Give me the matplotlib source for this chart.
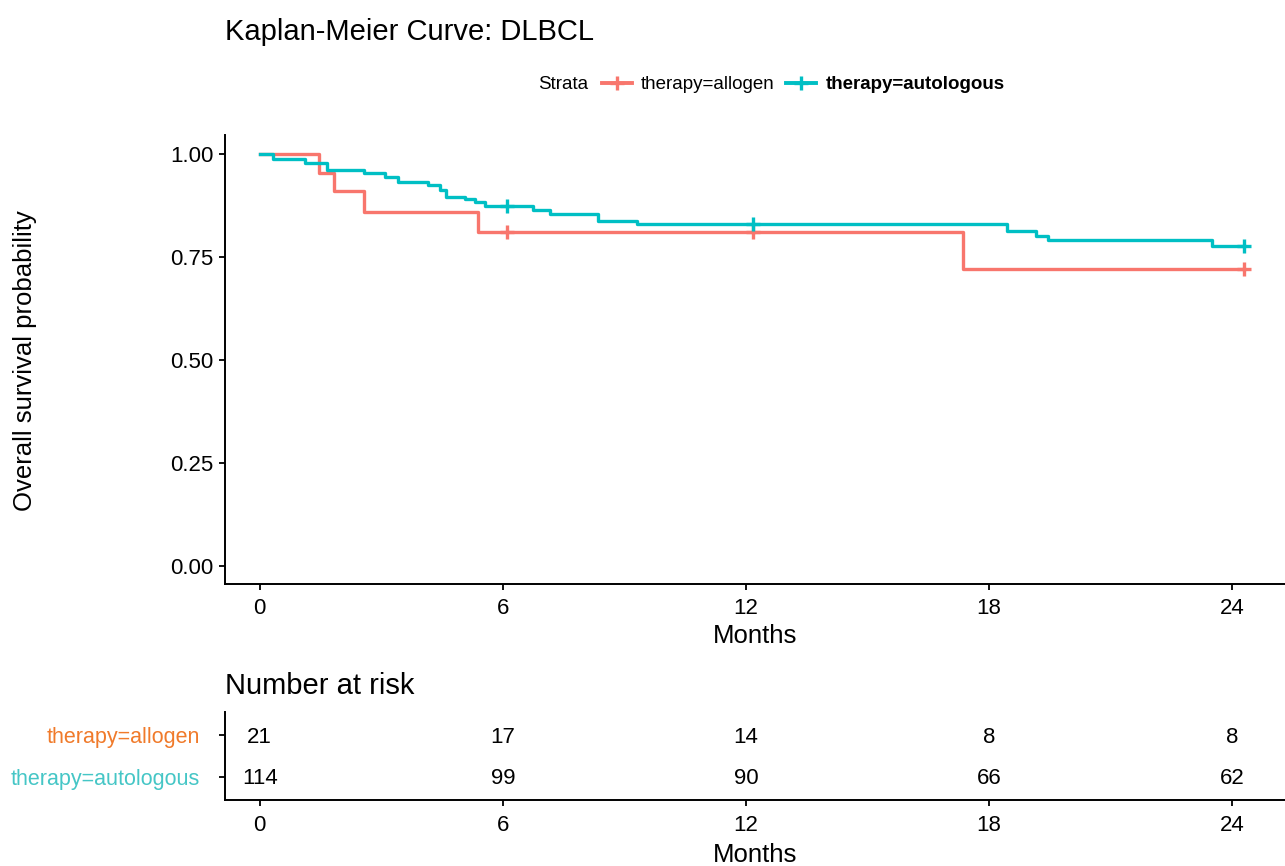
import matplotlib
matplotlib.use("Agg")
import matplotlib.pyplot as plt
from matplotlib.lines import Line2D

plt.rcParams['font.family'] = ['Liberation Sans', 'DejaVu Sans']

RED = '#F8766D'
TEAL = '#00BFC4'

# survival curves (step functions)
allogen_time = [0, 1.46, 1.83, 2.57, 5.38, 17.36, 24.3]
allogen_surv = [1.0, 0.955, 0.91, 0.86, 0.81, 0.72, 0.72]
allogen_cens_time = [6.1, 12.17, 24.3]
allogen_cens_surv = [0.81, 0.81, 0.72]

auto_time = [0, 0.32, 1.11, 1.65, 2.57, 3.09, 3.41, 4.15, 4.44, 4.6, 5.06, 5.3,
             5.56, 6.74, 7.16, 8.35, 9.31, 18.44, 19.16, 19.46, 23.5, 24.3]
auto_surv = [1.0, 0.987, 0.977, 0.961, 0.953, 0.945, 0.933, 0.925, 0.913, 0.896,
             0.891, 0.884, 0.874, 0.864, 0.854, 0.837, 0.83, 0.813, 0.801, 0.791,
             0.777, 0.777]
auto_cens_time = [6.1, 12.17, 24.3]
auto_cens_surv = [0.874, 0.83, 0.777]

risk_times = [0, 6, 12, 18, 24]
risk_allogen = [21, 17, 14, 8, 8]
risk_auto = [114, 99, 90, 66, 62]
strata = ['therapy=allogen', 'therapy=autologous']

y_ticks = [0.0, 0.25, 0.5, 0.75, 1.0]
XLIM = (-0.86, 25.3)

fig = plt.figure(figsize=(12.85, 8.66), dpi=100)

# --- survival plot ---
ax = fig.add_axes([0.175, 0.326, 0.825, 0.518])
ax.step(allogen_time, allogen_surv, where='post', color=RED, lw=2.4)
ax.step(auto_time, auto_surv, where='post', color=TEAL, lw=2.4)
ax.plot(allogen_cens_time, allogen_cens_surv, ls='none', marker='+', ms=10, mew=2.4, color=RED)
ax.plot(auto_cens_time, auto_cens_surv, ls='none', marker='+', ms=10, mew=2.4, color=TEAL)
ax.set_xlim(*XLIM)
ax.set_ylim(-0.044, 1.046)
ax.set_xticks(risk_times)
ax.set_yticks(y_ticks)
ax.set_yticklabels([f'{v:.2f}' for v in y_ticks])
ax.set_xlabel('Months', fontsize=18.5, labelpad=4)
for s in ['top', 'right']:
    ax.spines[s].set_visible(False)
for s in ['left', 'bottom']:
    ax.spines[s].set_linewidth(1.4)
ax.tick_params(axis='x', labelsize=16, length=4, width=1.3, pad=6)
ax.tick_params(axis='y', labelsize=16, length=4, width=1.3, pad=4)

fig.text(0.0195, 0.584, 'Overall survival probability', rotation=90,
         fontsize=18.5, ha='center', va='center')

# title + legend
fig.text(0.175, 0.963, 'Kaplan-Meier Curve: DLBCL', fontsize=21, ha='left', va='center')
fig.text(0.4576, 0.902, 'Strata', fontsize=13.5, ha='right', va='center')
handles = [Line2D([], [], color=RED, lw=2.8, marker='+', ms=10, mew=2.4),
           Line2D([], [], color=TEAL, lw=2.8, marker='+', ms=10, mew=2.4)]
leg = fig.legend(handles, strata, loc='center', bbox_to_anchor=(0.625, 0.902),
                 ncol=2, frameon=False, fontsize=13.5, handlelength=1.6,
                 handletextpad=0.5, columnspacing=0.6)
leg.get_texts()[1].set_fontweight('bold')

# --- risk table ---
rax = fig.add_axes([0.175, 0.076, 0.825, 0.102])
for x, a, b in zip(risk_times, risk_allogen, risk_auto):
    rax.text(x, 0.95, str(a), ha='center', va='center', fontsize=16)
    rax.text(x, -0.03, str(b), ha='center', va='center', fontsize=16)
rax.set_xlim(*XLIM)
rax.set_ylim(-0.55, 1.55)
rax.set_xticks(risk_times)
rax.set_yticks([1, 0])
rax.set_yticklabels(strata)
rax.get_yticklabels()[0].set_color('#F07A2A')
rax.get_yticklabels()[1].set_color('#45C6C6')
rax.set_xlabel('Months', fontsize=18.5, labelpad=5)
for s in ['top', 'right']:
    rax.spines[s].set_visible(False)
for s in ['left', 'bottom']:
    rax.spines[s].set_linewidth(1.4)
rax.tick_params(axis='x', labelsize=16, length=4, width=1.3, pad=7)
rax.tick_params(axis='y', labelsize=15.5, length=4, width=1.3, pad=14)
fig.text(0.175, 1 - 686 / 866, 'Number at risk', fontsize=21, ha='left', va='center')

fig.savefig('out.png', dpi=100)
